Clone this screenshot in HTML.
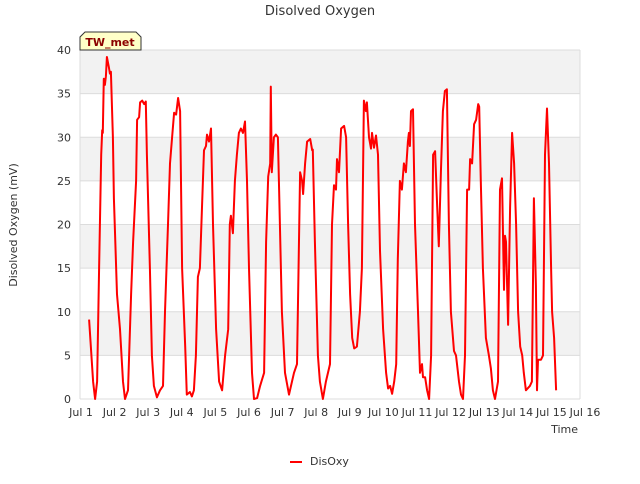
<!DOCTYPE html>
<html><head><meta charset="utf-8"><style>
body{margin:0;background:#fff;font-family:"DejaVu Sans","Liberation Sans",sans-serif;}
</style></head><body>
<svg id="chart" width="640" height="480" xmlns="http://www.w3.org/2000/svg" font-family="DejaVu Sans, Liberation Sans, sans-serif">
<text x="320" y="15" text-anchor="middle" font-size="13" fill="#333">Disolved Oxygen</text>
<g id="bands"></g>
<g id="grid"></g>
<g id="yticks" font-size="11" fill="#333"></g>
<g id="xticks" font-size="11" fill="#333"></g>
<text transform="translate(17,225) rotate(-90)" text-anchor="middle" font-size="11" fill="#333">Disolved Oxygen (mV)</text>
<text x="578" y="433" text-anchor="end" font-size="11" fill="#333">Time</text>
<path id="series" fill="none" stroke="#ff0000" stroke-width="2" stroke-linejoin="round"/>
<g>
<path d="M80,50 L80,37 L85,32 L136,32 L141,37 L141,50 Z" fill="#ffffc8" stroke="#333" stroke-width="1"/>
<text x="110" y="46" text-anchor="middle" font-size="11" font-weight="bold" fill="#8b0000">TW_met</text>
</g>
<g>
<line x1="290" y1="462" x2="302" y2="462" stroke="#ff0000" stroke-width="2"/>
<text x="310" y="465" font-size="11" fill="#333">DisOxy</text>
</g>
</svg>
<script>
const xTickLabels=["Jul 1","Jul 2","Jul 3","Jul 4","Jul 5","Jul 6","Jul 7","Jul 8","Jul 9","Jul 10","Jul 11","Jul 12","Jul 13","Jul 14","Jul 15","Jul 16"];
const yTickValues=[0,5,10,15,20,25,30,35,40];
const times=[0.24,0.36,0.42,0.48,0.54,0.60,0.63,0.65,0.68,0.71,0.74,0.77,0.83,0.86,0.89,0.95,0.98,1.07,1.16,1.25,1.31,1.40,1.49,1.55,1.64,1.67,1.73,1.76,1.82,1.88,1.93,1.96,2.05,2.11,2.17,2.26,2.35,2.44,2.50,2.59,2.65,2.71,2.77,2.83,2.89,2.95,3.01,3.10,3.15,3.24,3.30,3.36,3.42,3.48,3.54,3.60,3.66,3.72,3.75,3.81,3.87,3.93,4.02,4.11,4.20,4.29,4.38,4.43,4.46,4.52,4.58,4.64,4.70,4.76,4.82,4.88,4.94,5.00,5.09,5.15,5.24,5.33,5.45,5.51,5.57,5.63,5.65,5.68,5.74,5.80,5.86,5.92,5.98,6.07,6.19,6.34,6.43,6.52,6.58,6.61,6.67,6.73,6.82,6.88,6.90,6.96,7.05,7.11,7.20,7.29,7.41,7.47,7.53,7.59,7.62,7.68,7.74,7.83,7.89,7.95,8.01,8.07,8.13,8.21,8.30,8.36,8.42,8.48,8.51,8.57,8.63,8.66,8.72,8.78,8.84,8.90,8.99,9.08,9.14,9.20,9.26,9.32,9.38,9.43,9.49,9.55,9.61,9.67,9.73,9.76,9.79,9.82,9.88,9.94,10.03,10.09,10.15,10.18,10.24,10.30,10.36,10.42,10.48,10.54,10.60,10.65,10.71,10.77,10.83,10.89,10.95,11.01,11.10,11.16,11.25,11.31,11.37,11.43,11.49,11.55,11.58,11.64,11.70,11.76,11.82,11.85,11.90,11.96,12.05,12.14,12.20,12.26,12.32,12.41,12.47,12.53,12.59,12.62,12.65,12.71,12.77,12.83,12.89,12.95,13.01,13.07,13.13,13.18,13.24,13.36,13.42,13.48,13.54,13.57,13.60,13.69,13.75,13.81,13.87,13.93,13.99,14.02,14.08,14.14];
const disOxy=[9.1,2,0,2,15,28,30.8,30.5,36.7,36,37,39.2,38,37.3,37.5,30,23,12,8,2,0,1,12,18,25,32,32.3,34,34.2,33.8,34.1,28,15,5,1.5,0.2,1,1.5,10,20,27,30,32.8,32.6,34.5,33,15,6,0.5,0.8,0.3,1,5,14,15,22,28.5,29,30.3,29.5,31,20,8,2,1,5,8,20,21,19,25,28,30.5,31,30.5,31.8,25,15,3,0,0.1,1.5,3,18,25.5,27,35.8,26,30,30.3,30,20,10,3,0.5,3,4,26,25,23.5,27,29.5,29.8,28.5,28.6,18,5,2,0,2,4,20,24.5,24,27.5,26,31,31.3,30,20,12,7,5.8,6,10,15,34.2,33,34,30,28.7,30.5,28.8,30.2,28,17,8,3,1.2,1.5,0.6,2,4,16,25,24,27,26,29.5,30.5,29,33,33.2,20,10,3,4,2.5,2.5,1,0,5,28,28.4,22,17.5,26,33,35.3,35.5,20,10,5.5,5,2,0.5,0,5,24,24,27.5,27,31.5,32,33.8,33.5,25,15,7,5,3.5,1,0,2,24,25.3,12.5,18.7,18,8.5,22,30.5,27,20,10,6,5,3,1,1.5,2,23,13,1,4.5,4.5,5,28,33.3,27,15,10,7,1];
const L=80,R=580,T=50,B=399,X0=81,DAY=33.6;
const xs=t=>X0+t*DAY, ys=v=>B-(v/40)*(B-T);
const NS="http://www.w3.org/2000/svg";
function mk(tag,attrs,parent){const e=document.createElementNS(NS,tag);for(const k in attrs)e.setAttribute(k,attrs[k]);parent.appendChild(e);return e;}
const bands=document.getElementById('bands'),grid=document.getElementById('grid'),yt=document.getElementById('yticks'),xt=document.getElementById('xticks');
mk('rect',{x:L,y:T,width:R-L,height:B-T,fill:'#fff'},bands);
for(let i=0;i<yTickValues.length-1;i++){
  if(i%2===1){const r=mk('rect',{x:L,y:ys(yTickValues[i+1]),width:R-L,height:ys(yTickValues[i])-ys(yTickValues[i+1]),fill:'#f2f2f2'},bands);
  
  }
}
yTickValues.forEach(v=>{
  const l=mk('line',{x1:L,x2:R,y1:ys(v),y2:ys(v),stroke:'#dcdcdc','stroke-width':1},grid);
  
  
  const t=mk('text',{x:L-9,y:ys(v)+4,'text-anchor':'end'},yt);t.textContent=v;
  
  
});
mk('line',{x1:L,x2:L,y1:T,y2:B,stroke:'#dcdcdc'},grid);
mk('line',{x1:R,x2:R,y1:T,y2:B,stroke:'#dcdcdc'},grid);
xTickLabels.forEach((s,i)=>{
  const t=mk('text',{x:xs(i),y:B+17,'text-anchor':'middle'},xt);t.textContent=s;
  
  
});
let d='';times.forEach((t,i)=>{d+=(i?'L':'M')+xs(t).toFixed(1)+','+ys(disOxy[i]).toFixed(1);});
document.getElementById('series').setAttribute('d',d);
</script>
</body></html>
